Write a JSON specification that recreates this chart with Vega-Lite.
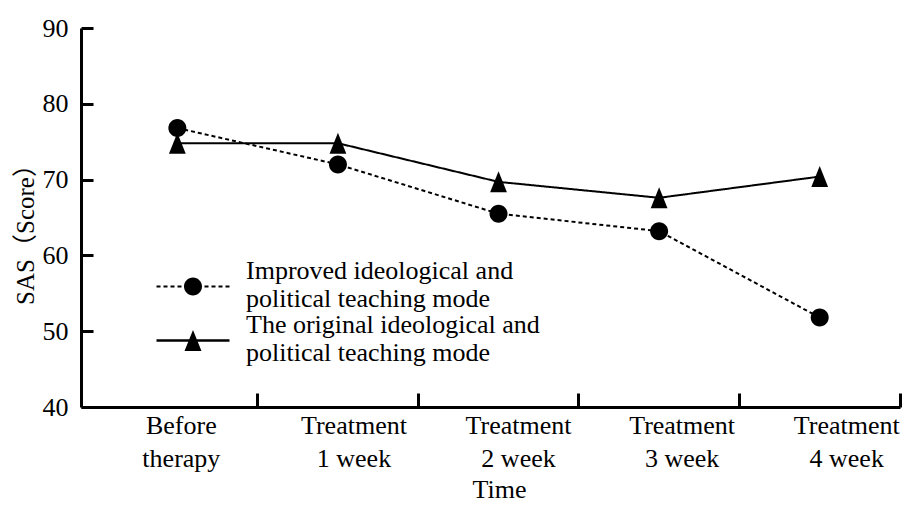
{
  "$schema": "https://vega.github.io/schema/vega-lite/v6.json",
  "width": 819,
  "height": 379,
  "autosize": {"type": "none"},
  "padding": {"left": 81, "top": 28, "right": 5, "bottom": 98},
  "background": "white",
  "config": {
    "view": {"stroke": null},
    "font": "Liberation Serif",
    "axis": {"labelFont": "Liberation Serif", "titleFont": "Liberation Serif", "labelColor": "black", "titleColor": "black", "titleFontWeight": "normal", "domainColor": "black", "tickColor": "black", "domainWidth": 3, "tickWidth": 3, "grid": false, "ticks": true},
    "legend": {"labelFont": "Liberation Serif", "labelColor": "black"}
  },
  "data": {
    "values": [
      {"time": "Before therapy", "group": "Improved ideological and political teaching mode", "grp": "Improved ideological and political teaching mode", "score": 76.8},
      {"time": "Treatment 1 week", "group": "Improved ideological and political teaching mode", "grp": "Improved ideological and political teaching mode", "score": 72.0},
      {"time": "Treatment 2 week", "group": "Improved ideological and political teaching mode", "grp": "Improved ideological and political teaching mode", "score": 65.5},
      {"time": "Treatment 3 week", "group": "Improved ideological and political teaching mode", "grp": "Improved ideological and political teaching mode", "score": 63.2},
      {"time": "Treatment 4 week", "group": "Improved ideological and political teaching mode", "grp": "Improved ideological and political teaching mode", "score": 51.8},
      {"time": "Before therapy", "group": "The original ideological and political teaching mode", "grp": "The original ideological and political teaching mode", "score": 74.8},
      {"time": "Treatment 1 week", "group": "The original ideological and political teaching mode", "grp": "The original ideological and political teaching mode", "score": 74.8},
      {"time": "Treatment 2 week", "group": "The original ideological and political teaching mode", "grp": "The original ideological and political teaching mode", "score": 69.7},
      {"time": "Treatment 3 week", "group": "The original ideological and political teaching mode", "grp": "The original ideological and political teaching mode", "score": 67.6},
      {"time": "Treatment 4 week", "group": "The original ideological and political teaching mode", "grp": "The original ideological and political teaching mode", "score": 70.4}
    ]
  },
  "encoding": {
    "x": {
      "field": "time", "type": "nominal", "sort": null,
      "scale": {"type": "band", "paddingInner": 0, "paddingOuter": 0.05, "align": 1},
      "axis": {
        "title": "Time", "titleFontSize": 26, "titlePadding": 5, "titleX": 418,
        "labelAngle": 0, "labelFontSize": 26, "labelLineHeight": 33, "labelPadding": 19,
        "labelExpr": "datum.value === 'Before therapy' ? ['Before', 'therapy'] : ['Treatment', substring(datum.value, 10)]",
        "tickSize": -14, "bandPosition": 1, "labelBaseline": "top",
        "labelOffset": {
          "condition": [
            {"test": "datum.value === 'Before therapy'", "value": 4},
            {"test": "datum.value === 'Treatment 1 week'", "value": 16},
            {"test": "datum.value === 'Treatment 2 week'", "value": 20},
            {"test": "datum.value === 'Treatment 3 week'", "value": 23}
          ],
          "value": 27
        }
      }
    },
    "y": {
      "field": "score", "type": "quantitative",
      "scale": {"domain": [40, 90], "nice": false, "zero": false},
      "axis": {
        "title": "SAS（Score）", "titleFont": "Liberation Serif, Noto Sans CJK SC", "titleFontSize": 25, "titlePadding": 4, "titleY": 200,
        "values": [40, 50, 60, 70, 80, 90], "labelFontSize": 26, "labelPadding": 25, "tickSize": -12, "tickColor": "black", "tickWidth": 3
      }
    }
  },
  "layer": [
    {
      "mark": {"type": "line", "color": "black", "strokeWidth": 2},
      "encoding": {
        "strokeDash": {
          "field": "group", "type": "nominal",
          "scale": {"domain": ["Improved ideological and political teaching mode", "The original ideological and political teaching mode"], "range": [[4, 3], [1, 0]]},
          "legend": null
        }
      }
    },
    {
      "mark": {"type": "point", "filled": true, "color": "black", "opacity": 1, "size": 441},
      "encoding": {
        "shape": {
          "field": "grp", "type": "nominal",
          "scale": {"range": ["M-0.857,0A0.857,0.857,0,1,0,0.857,0A0.857,0.857,0,1,0,-0.857,0Z", "M0,-1L0.8,1L-0.8,1Z"]},
          "legend": null
        }
      }
    },
    {
      "mark": {"type": "point", "filled": true, "color": "black", "opacity": 1, "size": 0},
      "encoding": {
        "shape": {
          "field": "group", "type": "nominal",
          "scale": {"range": [
            "M-0.6923,1.1923A0.6923,0.6923,0,1,0,0.6923,1.1923A0.6923,0.6923,0,1,0,-0.6923,1.1923ZM-2.8077,1.1154H-2.5V1.2692H-2.8077ZM-2.2692,1.1154H-1.9615V1.2692H-2.2692ZM-1.7308,1.1154H-1.4231V1.2692H-1.7308ZM-1.1923,1.1154H-0.8846V1.2692H-1.1923ZM0.8846,1.1154H1.1923V1.2692H0.8846ZM1.4231,1.1154H1.7308V1.2692H1.4231ZM1.9615,1.1154H2.2692V1.2692H1.9615ZM2.5,1.1154H2.8077V1.2692H2.5Z",
            "M-2.8077,1.0962H2.8077V1.2885H-2.8077ZM0,0.3846L0.6538,2L-0.6538,2Z"
          ]},
          "legend": {
            "title": null, "orient": "none", "legendX": 75.5, "legendY": 230, "padding": 0,
            "symbolSize": 676, "symbolFillColor": "black", "symbolStrokeWidth": 0, "symbolOpacity": 1, "symbolOffset": 23.5,
            "labelFontSize": 26, "labelOffset": 40, "rowPadding": 0, "labelLimit": 600,
            "labelExpr": "[replace(datum.label, ' political teaching mode', ''), 'political teaching mode']",
            "encode": {"labels": {"update": {"lineHeight": {"value": 31}}}}
          }
        }
      }
    }
  ],
  "resolve": {"scale": {"shape": "independent"}, "legend": {"shape": "independent"}}
}
